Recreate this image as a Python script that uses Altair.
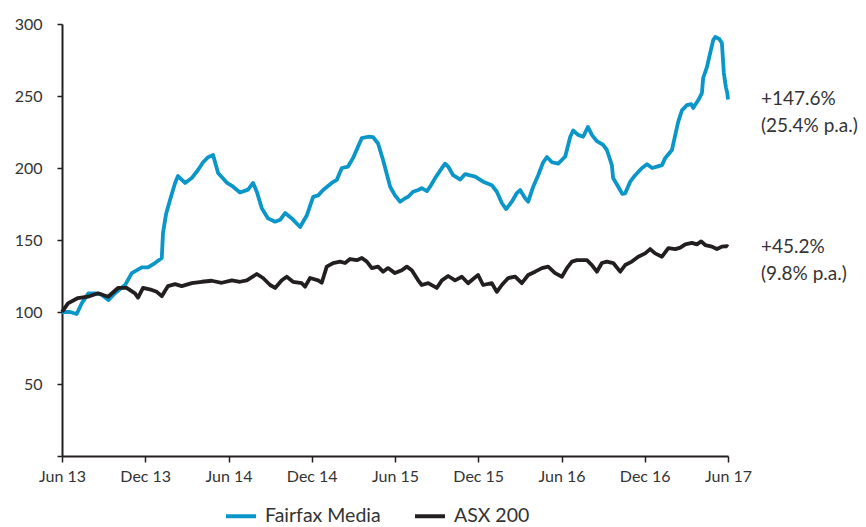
import altair as alt
import pandas as pd

# Months since June 2013 and index values (June 2013 = 100)
fx_month = [0.0, 0.58, 1.06, 1.42, 1.9, 2.38, 2.86, 3.34, 3.82, 4.54, 5.03, 5.75, 6.2, 6.7,
            7.19, 7.28, 7.5, 7.79, 8.15, 8.36, 8.87, 9.35, 9.8, 10.17, 10.53, 10.89, 11.25,
            11.9, 12.33, 12.83, 13.41, 13.77, 14.04, 14.4, 14.85, 15.36, 15.72, 16.08, 16.56,
            17.16, 17.64, 18.1, 18.46, 18.82, 19.44, 19.8, 20.17, 20.62, 20.98, 21.34, 21.61,
            22.06, 22.42, 22.78, 23.14, 23.65, 24.0, 24.37, 24.73, 24.95, 25.3, 25.67, 25.93,
            26.3, 26.53, 26.89, 27.38, 27.61, 27.83, 28.19, 28.7, 29.06, 29.78, 30.35, 30.98,
            31.34, 31.7, 32.01, 32.42, 32.78, 33.02, 33.38, 33.6, 33.96, 34.32, 34.68, 34.95,
            35.31, 35.76, 36.27, 36.63, 36.84, 37.2, 37.56, 37.9, 38.19, 38.55, 39.0, 39.27,
            39.63, 39.72, 40.09, 40.38, 40.59, 40.95, 41.31, 41.8, 42.16, 42.54, 42.88, 43.24,
            43.48, 43.96, 44.2, 44.41, 44.68, 45.04, 45.35, 45.49, 45.85, 46.12, 46.21, 46.48,
            46.72, 46.94, 47.08, 47.37, 47.56, 47.7, 47.85, 47.95, 48.0]
fx_value = [100.0, 100.0, 98.6, 106, 113, 113, 112, 108.3, 113, 118.7, 127, 131, 131, 134,
            137.5, 155, 168, 178, 189.6, 194.4, 189.6, 193, 198.6, 204, 207.5, 209, 196.5,
            189.6, 187, 183, 185, 189.6, 183.5, 172, 165, 162.7, 164, 168.7, 165,
            159, 167, 180, 181, 184.7, 189.6, 191.7, 200, 201, 207, 215, 220.8,
            221.7, 221.5, 217, 205.6, 187, 181, 176.6, 179, 180, 183.5, 184.7, 186,
            184, 187, 193, 200, 203, 201, 195, 192, 195.8, 194, 190.5, 188,
            183.5, 175.7, 171.5, 176.6, 182.6, 184.7, 179, 176.6, 187, 195, 204, 207.6,
            204, 203, 208, 221.7, 226, 223, 221.7, 228.5, 223, 218.6, 216, 212.5,
            202, 193, 187, 182, 182.4, 190.5, 195, 200, 202.6, 200, 201, 202,
            207, 212.5, 223, 232, 240, 243.7, 244.4, 241.7, 247, 252, 262.5, 270,
            280, 289, 291, 289.6, 286.8, 266, 256, 252, 247.6]

asx_month = [0.0, 0.43, 1.15, 1.87, 2.6, 3.32, 4.04, 4.66, 5.26, 5.48, 5.84, 6.47, 6.83,
             7.19, 7.64, 8.15, 8.63, 9.35, 10.07, 10.79, 11.51, 12.24, 12.83, 13.32, 14.04,
             14.49, 15.0, 15.36, 15.84, 16.2, 16.65, 17.28, 17.52, 17.88, 18.46, 18.72, 19.08,
             19.54, 20.04, 20.4, 20.76, 21.25, 21.61, 21.97, 22.33, 22.78, 23.14, 23.5, 24.0,
             24.49, 24.85, 25.21, 25.67, 25.93, 26.39, 27.01, 27.38, 27.83, 28.33, 28.82,
             29.27, 29.63, 29.99, 30.35, 30.98, 31.34, 31.7, 32.16, 32.66, 33.14, 33.6, 34.1,
             34.59, 35.04, 35.54, 36.03, 36.39, 36.75, 37.11, 37.83, 38.19, 38.55, 38.91,
             39.27, 39.73, 40.23, 40.59, 41.07, 41.53, 42.03, 42.39, 42.75, 43.24, 43.7, 44.2,
             44.56, 44.92, 45.4, 45.76, 46.07, 46.36, 46.84, 47.2, 47.56, 47.92, 48.0]
asx_value = [100.0, 106, 109.7, 110.6, 113, 110.6, 116.7, 116.7, 113, 110, 116.7, 115.3, 114,
             111, 118, 119.4, 118, 120, 121, 121.7, 120.3, 122, 121, 122, 126.4,
             123.6, 118.75, 116.7, 122, 124.5, 121, 120, 117.6, 123.6, 122, 120.3, 131.5,
             134, 135, 134, 136.8, 136, 137.5, 135, 130.5, 131.5, 128, 130.5, 127,
             129, 131.5, 129, 122, 118.75, 120, 116.7, 122, 125, 122, 124.5,
             120, 122.9, 125.7, 118.75, 120, 114, 118.75, 123.6, 124.5, 120, 125.7, 128,
             130.5, 131.5, 127, 124.5, 130.5, 135, 136, 136, 132.6, 128, 134,
             135, 134, 128, 132.6, 135, 138.4, 140.7, 143.7, 140.7, 138.4, 144.4, 143.7,
             144.7, 147, 148, 147, 149, 146.5, 145.4, 143.7, 145.4, 145.8, 145.2]

series_names = ["Fairfax Media", "ASX 200"]
series_colors = ["#0a96c8", "#231f20"]
end_labels = ["+147.6%\n(25.4% p.a.)", "+45.2%\n(9.8% p.a.)"]

x_tick_months = [0, 6, 12, 18, 24, 30, 36, 42, 48]
x_tick_labels = ["Jun 13", "Dec 13", "Jun 14", "Dec 14", "Jun 15",
                 "Dec 15", "Jun 16", "Dec 16", "Jun 17"]
y_ticks = [0, 50, 100, 150, 200, 250, 300]

FONT = "Lato"
TEXT = "#333333"

lines = pd.concat([
    pd.DataFrame({"month": fx_month, "value": fx_value, "series": series_names[0]}),
    pd.DataFrame({"month": asx_month, "value": asx_value, "series": series_names[1]}),
])

ends = pd.DataFrame({
    "month": [fx_month[-1], asx_month[-1]],
    "value": [fx_value[-1], asx_value[-1]],
    "label": end_labels,
})

label_expr = "[" + ",".join(f"'{t}'" for t in x_tick_labels) + "][round(datum.value / 6)]"

x_enc = alt.X(
    "month:Q",
    scale=alt.Scale(domain=[0, 48], nice=False, zero=False),
    axis=alt.Axis(values=x_tick_months, labelExpr=label_expr, title=None,
                  grid=False, labelFontSize=16, labelPadding=6,
                  labelFlush=False, labelOverlap=False, tickSize=6),
)
y_enc = alt.Y(
    "value:Q",
    scale=alt.Scale(domain=[0, 300], nice=False),
    axis=alt.Axis(values=y_ticks, labelExpr="datum.value == 0 ? '' : datum.label",
                  title=None, grid=False, labelFontSize=16, labelPadding=15,
                  labelFlush=False, tickSize=5),
)

line_layer = alt.Chart(lines).mark_line(strokeWidth=3.8, strokeJoin="round").encode(
    x=x_enc,
    y=y_enc,
    color=alt.Color(
        "series:N",
        scale=alt.Scale(domain=series_names, range=series_colors),
        sort=series_names,
        legend=alt.Legend(
            title=None, orient="none", direction="horizontal",
            legendX=162, legendY=475,
            symbolType="stroke", symbolSize=900, symbolStrokeWidth=4,
            labelFontSize=19.5, labelColor=TEXT, labelFont=FONT,
            columnPadding=26, symbolOffset=0, labelOffset=7,
        ),
    ),
    detail="series:N",
)

label_layer = alt.Chart(ends).mark_text(
    align="left", baseline="middle", dx=33, lineBreak="\n", lineHeight=27,
    fontSize=19, color=TEXT, font=FONT,
).encode(
    x=alt.X("month:Q"),
    y=alt.Y("value:Q"),
    text="label:N",
)

chart = alt.layer(line_layer, label_layer).properties(
    width=666, height=432,
    autosize=alt.AutoSizeParams(type="none"),
    padding={"left": 62, "top": 24, "right": 138, "bottom": 71},
).configure_view(stroke=None).configure_axis(
    domainColor="#231f20", domainWidth=2, tickColor="#231f20", tickWidth=1.5,
    labelColor=TEXT, labelFont=FONT,
)

chart.save("out.html", embed_options={"renderer": "svg", "actions": False})
